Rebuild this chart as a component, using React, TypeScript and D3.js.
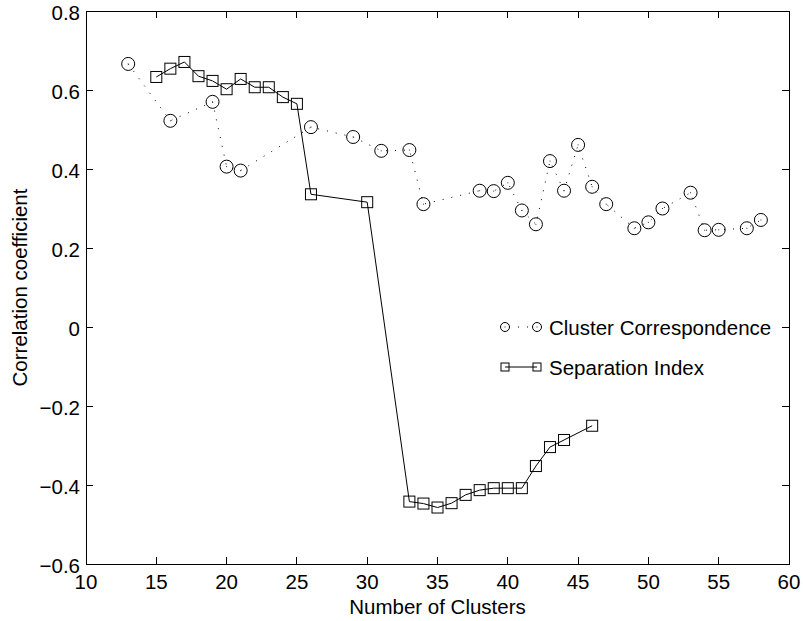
import React from "react";
import * as d3 from "d3";

const ccX = [13, 16, 19, 20, 21, 26, 29, 31, 33, 34, 38, 39, 40, 41, 42, 43, 44, 45, 46, 47, 49, 50, 51, 53, 54, 55, 57, 58];
const ccY = [0.666, 0.522, 0.57, 0.406, 0.396, 0.506, 0.481, 0.446, 0.448, 0.311, 0.345, 0.344, 0.365, 0.295, 0.26, 0.42, 0.345, 0.461, 0.355, 0.311, 0.25, 0.265, 0.3, 0.34, 0.245, 0.246, 0.25, 0.271];

const siX = [15, 16, 17, 18, 19, 20, 21, 22, 23, 24, 25, 26, 30, 33, 34, 35, 36, 37, 38, 39, 40, 41, 42, 43, 44, 46];
const siY = [0.633, 0.654, 0.671, 0.635, 0.623, 0.602, 0.628, 0.607, 0.607, 0.582, 0.565, 0.336, 0.316, -0.442, -0.447, -0.457, -0.446, -0.425, -0.413, -0.408, -0.408, -0.408, -0.352, -0.304, -0.286, -0.25];

const xTicks = [10, 15, 20, 25, 30, 35, 40, 45, 50, 55, 60];
const yTicks = [-0.6, -0.4, -0.2, 0, 0.2, 0.4, 0.6, 0.8];

const seriesNames = ["Cluster Correspondence", "Separation Index"];
const xTitle = "Number of Clusters";
const yTitle = "Correlation coefficient";

const W = 803, H = 621;
const L = 86, R = 789, T = 11, B = 564;
const FONT = "'Liberation Sans', Arial, Helvetica, sans-serif";
const FS = 20.5;

function fmtY(v: number) {
  if (v === 0) return "0";
  const s = Math.abs(v).toFixed(1);
  return (v < 0 ? "\u2212" : "") + s;
}

export default function App() {
  const x = d3.scaleLinear().domain([10, 60]).range([L, R]);
  const y = d3.scaleLinear().domain([-0.6, 0.8]).range([B, T]);
  const line = d3.line<[number, number]>().x((d) => x(d[0])).y((d) => y(d[1]));
  const cc: [number, number][] = ccX.map((v, i) => [v, ccY[i]]);
  const si: [number, number][] = siX.map((v, i) => [v, siY[i]]);
  const tick = 7;
  const rC = 6.5;
  const sq = 11;
  const legX1 = 505, legX2 = 537, legTx = 549, leg1Y = 327, leg2Y = 367;

  return (
    <svg width={W} height={H} style={{ position: "absolute", left: 0, top: 0, background: "#fff" }} fontFamily={FONT}>
      <rect x={0} y={0} width={W} height={H} fill="#fff" />
      <rect x={L} y={T} width={R - L} height={B - T} fill="none" stroke="#000" strokeWidth={1} shapeRendering="crispEdges" />
      {xTicks.map((t) => (
        <g key={"xt" + t}>
          <line x1={x(t)} x2={x(t)} y1={B} y2={B - tick} stroke="#000" shapeRendering="crispEdges" />
          <line x1={x(t)} x2={x(t)} y1={T} y2={T + tick} stroke="#000" shapeRendering="crispEdges" />
          <text x={x(t)} y={589} fontSize={FS} textAnchor="middle" fill="#000">{t}</text>
        </g>
      ))}
      {yTicks.map((t) => (
        <g key={"yt" + t}>
          <line x1={L} x2={L + tick} y1={y(t)} y2={y(t)} stroke="#000" shapeRendering="crispEdges" />
          <line x1={R} x2={R - tick} y1={y(t)} y2={y(t)} stroke="#000" shapeRendering="crispEdges" />
          <text x={80} y={y(t) + 9} fontSize={FS} textAnchor="end" fill="#000">{fmtY(t)}</text>
        </g>
      ))}
      <text x={(L + R) / 2} y={614} fontSize={FS} textAnchor="middle" fill="#000">{xTitle}</text>
      <text transform={`translate(27,${(T + B) / 2}) rotate(-90)`} fontSize={FS} textAnchor="middle" fill="#000">{yTitle}</text>

      <path d={line(cc) || ""} fill="none" stroke="#000" strokeWidth={1} strokeDasharray="1,8" />
      {cc.map((d, i) => (
        <g key={"c" + i}>
          <circle cx={x(d[0])} cy={y(d[1])} r={rC} fill="none" stroke="#000" strokeWidth={1} />
          <rect x={x(d[0]) - 0.5} y={y(d[1]) - 0.5} width={1} height={1} fill="#333" />
        </g>
      ))}

      <path d={line(si) || ""} fill="none" stroke="#000" strokeWidth={1} />
      {si.map((d, i) => (
        <rect key={"s" + i} x={x(d[0]) - sq / 2} y={y(d[1]) - sq / 2} width={sq} height={sq} fill="none" stroke="#000" strokeWidth={1} />
      ))}

      <line x1={legX1} x2={legX2} y1={leg1Y} y2={leg1Y} stroke="#000" strokeDasharray="1,8" strokeDashoffset={-4} />
      {[legX1, legX2].map((lx) => (
        <g key={"lc" + lx}>
          <circle cx={lx} cy={leg1Y} r={4.5} fill="#fff" stroke="#000" strokeWidth={1} />
          <rect x={lx - 0.5} y={leg1Y - 0.5} width={1} height={1} fill="#333" />
        </g>
      ))}
      <text x={legTx} y={leg1Y + 8} fontSize={FS} fill="#000">{seriesNames[0]}</text>
      <line x1={legX1} x2={legX2} y1={leg2Y} y2={leg2Y} stroke="#000" />
      {[legX1, legX2].map((lx) => (
        <rect key={"ls" + lx} x={lx - 4} y={leg2Y - 4} width={8} height={8} fill="none" stroke="#000" strokeWidth={1} />
      ))}
      <text x={legTx} y={leg2Y + 8} fontSize={FS} fill="#000">{seriesNames[1]}</text>
    </svg>
  );
}
